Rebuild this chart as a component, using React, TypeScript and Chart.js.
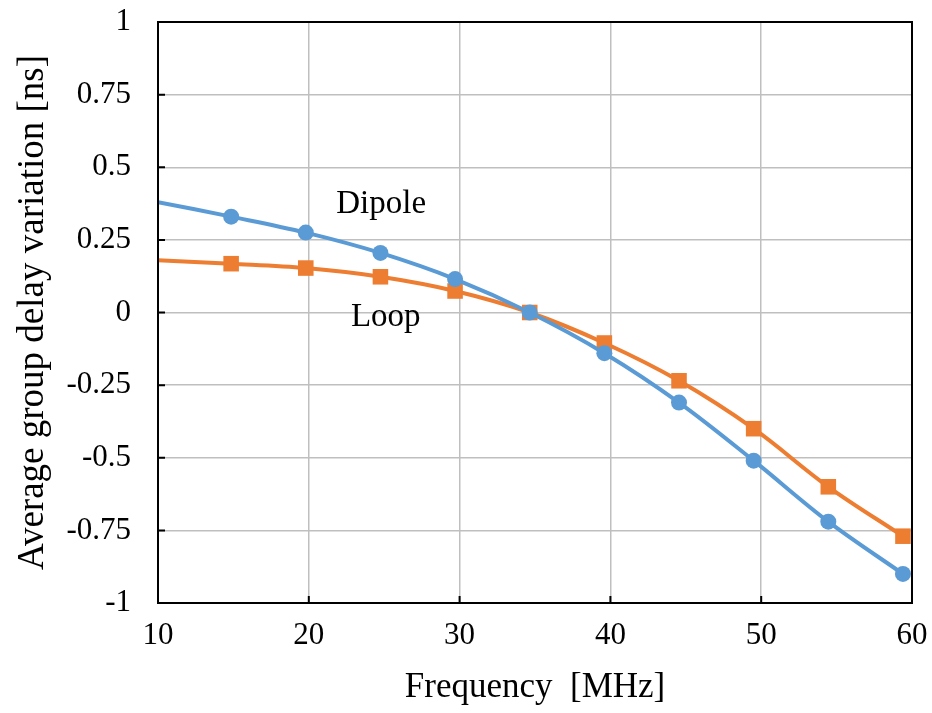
import React, { useEffect, useRef } from "react";
import { Chart, registerables } from "chart.js";

Chart.register(...registerables);

const frequency = [10, 14.85, 19.8, 24.75, 29.7, 34.65, 39.6, 44.55, 49.5, 54.45, 59.4];
const dipole = [0.38, 0.33, 0.275, 0.205, 0.115, 0.0, -0.14, -0.31, -0.51, -0.72, -0.9];
const loop = [0.18, 0.168, 0.153, 0.123, 0.074, 0.0, -0.105, -0.235, -0.4, -0.6, -0.77];
const seriesLabels = ["Dipole", "Loop"];
const labelPositions = [
  { x: 24.8, y: 0.372 },
  { x: 25.1, y: -0.017 },
];
const xTicks = [10, 20, 30, 40, 50, 60];
const yTicks = [-1, -0.75, -0.5, -0.25, 0, 0.25, 0.5, 0.75, 1];

const FONT = "'Liberation Serif', 'Times New Roman', serif";

export default function App() {
  const ref = useRef<HTMLCanvasElement | null>(null);

  useEffect(() => {
    document.body.style.margin = "0";
    const canvas = ref.current!;
    const framePlugin = {
      id: "frame",
      afterDraw(chart: any) {
        const { ctx, chartArea } = chart;
        const xs = chart.scales.x;
        const ys = chart.scales.y;
        ctx.save();
        ctx.strokeStyle = "#000";
        ctx.lineWidth = 2;
        ctx.strokeRect(chartArea.left, chartArea.top, chartArea.right - chartArea.left, chartArea.bottom - chartArea.top);
        ctx.beginPath();
        xTicks.forEach((v) => {
          const px = xs.getPixelForValue(v);
          ctx.moveTo(px, chartArea.bottom);
          ctx.lineTo(px, chartArea.bottom - 7);
        });
        yTicks.forEach((v) => {
          const py = ys.getPixelForValue(v);
          ctx.moveTo(chartArea.left, py);
          ctx.lineTo(chartArea.left + 7, py);
        });
        ctx.stroke();
        ctx.fillStyle = "#000";
        ctx.font = `33px ${FONT}`;
        ctx.textAlign = "center";
        ctx.textBaseline = "middle";
        seriesLabels.forEach((t, i) => {
          ctx.fillText(t, xs.getPixelForValue(labelPositions[i].x), ys.getPixelForValue(labelPositions[i].y));
        });
        ctx.restore();
      },
    };

    const chart = new Chart(canvas, {
      type: "line",
      data: {
        datasets: [
          {
            label: seriesLabels[0],
            data: frequency.map((f, i) => ({ x: f, y: dipole[i] })),
            borderColor: "#5B9BD5",
            backgroundColor: "#5B9BD5",
            borderWidth: 4,
            pointStyle: "circle",
            pointRadius: frequency.map((_, i) => (i === 0 ? 0 : 8)),
            pointBorderWidth: 0,
            tension: 0.35,
          },
          {
            label: seriesLabels[1],
            data: frequency.map((f, i) => ({ x: f, y: loop[i] })),
            borderColor: "#ED7D31",
            backgroundColor: "#ED7D31",
            borderWidth: 4,
            pointStyle: "rect",
            pointRadius: frequency.map((_, i) => (i === 0 ? 0 : 11)),
            pointBorderWidth: 0,
            tension: 0.35,
          },
        ],
      },
      options: {
        animation: false,
        responsive: false,
        layout: { padding: { top: 22, right: 20, left: 0, bottom: 0 } },
        plugins: { legend: { display: false }, tooltip: { enabled: false } },
        scales: {
          x: {
            type: "linear",
            min: 10,
            max: 60,
            afterFit: (s: any) => {
              s.height = 110;
              s.paddingLeft = 0;
              s.paddingRight = 0;
            },
            afterBuildTicks: (s: any) => {
              s.ticks = xTicks.map((v) => ({ value: v }));
            },
            ticks: {
              color: "#000",
              font: { family: FONT, size: 31 },
              padding: 14,
              maxRotation: 0,
              callback: (v: any) => String(v),
            },
            grid: { color: "#BFBFBF", lineWidth: 1.5, drawTicks: false },
            border: { color: "#000", width: 2 },
            title: {
              display: true,
              text: "Frequency  [MHz]",
              color: "#000",
              font: { family: FONT, size: 35 },
              padding: { top: 0, bottom: 4 },
            },
          },
          y: {
            type: "linear",
            min: -1,
            max: 1,
            afterFit: (s: any) => {
              s.width = 158;
              s.paddingTop = 0;
              s.paddingBottom = 0;
            },
            afterBuildTicks: (s: any) => {
              s.ticks = yTicks.map((v) => ({ value: v }));
            },
            ticks: {
              color: "#000",
              font: { family: FONT, size: 31 },
              padding: 27,
              callback: (v: any) => String(v),
            },
            grid: { color: "#BFBFBF", lineWidth: 1.5, drawTicks: false },
            border: { color: "#000", width: 2 },
            title: {
              display: true,
              text: "Average group delay variation [ns]",
              color: "#000",
              font: { family: FONT, size: 37 },
              padding: { top: 11, bottom: 0 },
            },
          },
        },
      },
      plugins: [framePlugin],
    });
    return () => chart.destroy();
  }, []);

  return (
    <div style={{ position: "absolute", left: 0, top: 0, width: 932, height: 713 }}>
      <canvas ref={ref} width={932} height={713} />
    </div>
  );
}
